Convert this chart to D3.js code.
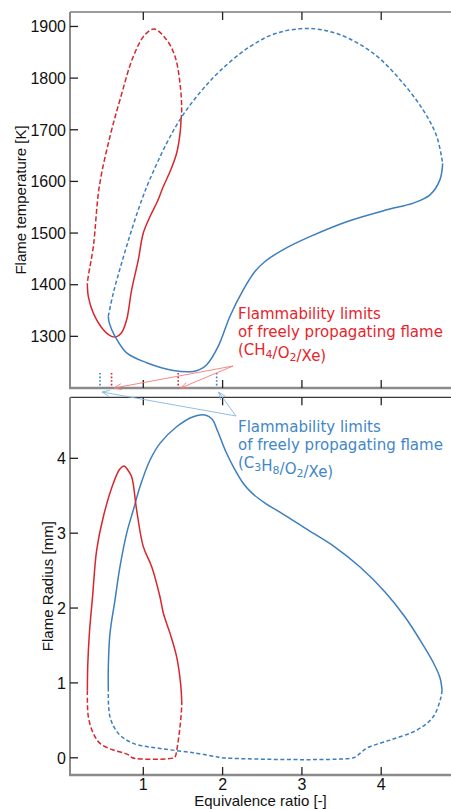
<!DOCTYPE html>
<html><head><meta charset="utf-8">
<script src="https://cdn.jsdelivr.net/npm/d3@7"></script>
<style>body{margin:0;background:#fff;} svg{display:block;}</style>
</head><body>
<svg id="chart" width="451" height="810"></svg>
<script>
// ---- data ----
const xTicks = [1, 2, 3, 4];
const tempTicks = [1300, 1400, 1500, 1600, 1700, 1800, 1900];
const radiusTicks = [0, 1, 2, 3, 4];

// CH4/O2/Xe : flame temperature [K] vs equivalence ratio
const ch4TempSolid = [[0.294,1403],[0.307,1377],[0.37,1345],[0.496,1313],[0.60,1300],[0.656,1299],[0.726,1307],[0.79,1332],[0.853,1390],[0.937,1448],[1.0,1500],[1.085,1532],[1.18,1562],[1.252,1590],[1.34,1620],[1.421,1655],[1.465,1695],[1.476,1719]];
const ch4TempDashed = [[1.476,1719],[1.484,1740],[1.463,1790],[1.40,1842],[1.295,1874],[1.139,1895],[1.021,1884],[0.874,1842],[0.706,1758],[0.58,1687],[0.445,1590],[0.37,1474],[0.31,1420],[0.294,1403]];
// C3H8/O2/Xe : flame temperature
const c3h8TempDashed = [[0.559,1339],[0.622,1384],[0.727,1442],[0.853,1506],[0.98,1564],[1.08,1603],[1.295,1674],[1.484,1725],[1.715,1772],[1.967,1814],[2.345,1861],[2.68,1887],[3.10,1896],[3.48,1884],[3.90,1848],[4.237,1797],[4.53,1738],[4.70,1687],[4.775,1635]];
const c3h8TempSolid = [[4.775,1635],[4.74,1603],[4.615,1574],[4.405,1558],[4.07,1545],[3.565,1522],[3.10,1493],[2.765,1468],[2.535,1445],[2.41,1426],[2.26,1390],[2.093,1339],[1.946,1281],[1.80,1245],[1.715,1236],[1.63,1232],[1.378,1234],[1.042,1249],[0.79,1268],[0.643,1300],[0.571,1326],[0.559,1339]];

// flame radius [mm]
const ch4RadiusSolid = [[0.295,0.90],[0.299,1.216],[0.32,1.662],[0.36,2.15],[0.412,2.775],[0.496,3.22],[0.622,3.666],[0.70,3.85],[0.757,3.897],[0.80,3.85],[0.853,3.754],[0.916,3.309],[1.0,2.82],[1.106,2.552],[1.21,2.151],[1.253,1.93],[1.337,1.662],[1.42,1.35],[1.47,0.994],[1.484,0.77]];
const ch4RadiusDashed = [[1.484,0.77],[1.484,0.681],[1.463,0.414],[1.425,0.12],[1.405,0.02],[1.39,0],[0.86,0],[0.83,0.03],[0.769,0.059],[0.622,0.103],[0.454,0.192],[0.37,0.326],[0.307,0.548],[0.295,0.90]];
const c3h8RadiusSolid = [[0.559,0.904],[0.559,1.216],[0.58,1.662],[0.643,2.107],[0.706,2.552],[0.79,2.998],[0.874,3.309],[0.958,3.62],[1.085,3.977],[1.21,4.2],[1.42,4.422],[1.63,4.556],[1.778,4.579],[1.866,4.525],[1.942,4.351],[2.043,4.084],[2.144,3.870],[2.257,3.670],[2.371,3.535],[2.535,3.402],[2.762,3.255],[3.039,3.068],[3.417,2.815],[3.733,2.548],[4.048,2.214],[4.30,1.88],[4.49,1.572],[4.653,1.279],[4.742,1.065],[4.767,0.904]];
const c3h8RadiusDashed = [[4.767,0.904],[4.754,0.81],[4.653,0.544],[4.45,0.37],[4.11,0.236],[3.82,0.13],[3.70,0.03],[3.65,0],[1.99,0],[1.925,0.013],[1.63,0.067],[1.21,0.125],[0.874,0.192],[0.685,0.326],[0.58,0.548],[0.559,0.904]];

// flammability limits of freely propagating flame
const ch4Limits = [0.60, 1.44];
const c3h8Limits = [0.454, 1.925];

// ---- layout ----
const RED = "#d8262c", RED_TXT = "#e8242b", RED_ARROW = "#f27c7c";
const BLUE = "#3d7ebf", BLUE_TXT = "#4287c8", BLUE_ARROW = "#86b6e2";
const L = 70, R = 451;
const top1 = 12, bot1 = 388, top2 = 397.3, bot2 = 775;

const svg = d3.select("#chart");
const x = d3.scaleLinear().domain([0.0757, 4.880]).range([L, R]);
const yT = d3.scaleLinear().domain([1200, 1928]).range([bot1, top1]);
const yR = d3.scaleLinear().domain([-0.23, 4.815]).range([bot2, top2]);

const FONT = "'Liberation Sans', Arial, sans-serif";
const AFONT = "'DejaVu Sans', Verdana, sans-serif";

function frame(t, b) {
  svg.append("line").attr("x1", L).attr("x2", R).attr("y1", t).attr("y2", t)
    .attr("stroke", "#3a3a3a").attr("stroke-width", 1.2);
  svg.append("line").attr("x1", L).attr("x2", L).attr("y1", t).attr("y2", b)
    .attr("stroke", "#8a8a8a").attr("stroke-width", 2);
  svg.append("line").attr("x1", L - 1).attr("x2", R).attr("y1", b).attr("y2", b)
    .attr("stroke", "#8a8a8a").attr("stroke-width", 2.5);
}
frame(top1, bot1);
frame(top2, bot2);

function yAxis(scale, ticks) {
  const g = svg.append("g");
  g.selectAll("line").data(ticks).join("line")
    .attr("x1", L).attr("x2", L + 8).attr("y1", d => scale(d)).attr("y2", d => scale(d))
    .attr("stroke", "#222").attr("stroke-width", 1.3);
  g.selectAll("text").data(ticks).join("text")
    .attr("x", L - 4).attr("y", d => scale(d)).attr("dy", "0.36em")
    .attr("text-anchor", "end").attr("font-family", FONT).attr("font-size", 16)
    .attr("fill", "#111").text(d => d);
}
function xTickMarks(t, b, labels) {
  const g = svg.append("g");
  g.selectAll("line.t").data(xTicks).join("line")
    .attr("x1", d => x(d)).attr("x2", d => x(d)).attr("y1", t).attr("y2", t + 8)
    .attr("stroke", "#222").attr("stroke-width", 1.3);
  g.selectAll("line.b").data(xTicks).join("line")
    .attr("x1", d => x(d)).attr("x2", d => x(d)).attr("y1", b - 8).attr("y2", b)
    .attr("stroke", "#222").attr("stroke-width", 1.3);
  if (labels) {
    g.selectAll("text").data(xTicks).join("text")
      .attr("x", d => x(d)).attr("y", b + 15)
      .attr("text-anchor", "middle").attr("font-family", FONT).attr("font-size", 16)
      .attr("fill", "#111").text(d => d);
  }
}
yAxis(yT, tempTicks);
yAxis(yR, radiusTicks);
xTickMarks(top1, bot1, false);
xTickMarks(top2, bot2, true);

// axis titles
svg.append("text").attr("transform", `translate(25.5,${(top1 + bot1) / 2}) rotate(-90)`)
  .attr("text-anchor", "middle").attr("font-family", FONT).attr("font-size", 15)
  .attr("fill", "#111").text("Flame temperature [K]");
svg.append("text").attr("transform", `translate(52.5,${(top2 + bot2) / 2}) rotate(-90)`)
  .attr("text-anchor", "middle").attr("font-family", FONT).attr("font-size", 15)
  .attr("fill", "#111").text("Flame Radius [mm]");
svg.append("text").attr("x", (L + R) / 2).attr("y", 806)
  .attr("text-anchor", "middle").attr("font-family", FONT).attr("font-size", 15)
  .attr("fill", "#111").text("Equivalence ratio [-]");

// curves
function curve(data, yScale, color, dash) {
  const line = d3.line().x(d => x(d[0])).y(d => yScale(d[1]))
    .curve(d3.curveCatmullRom.alpha(0.5));
  svg.append("path").datum(data).attr("d", line)
    .attr("fill", "none").attr("stroke", color).attr("stroke-width", 1.5)
    .attr("stroke-dasharray", dash || null);
}
curve(ch4TempSolid, yT, RED);
curve(ch4TempDashed, yT, RED, "5,2.5");
curve(c3h8TempDashed, yT, BLUE, "4,2.5");
curve(c3h8TempSolid, yT, BLUE);
curve(c3h8RadiusSolid, yR, BLUE);
curve(c3h8RadiusDashed, yR, BLUE, "4,2.5");
curve(ch4RadiusSolid, yR, RED);
curve(ch4RadiusDashed, yR, RED, "5,2.5");

// flammability limit markers
function limitMarks(lims, color) {
  svg.append("g").selectAll("line").data(lims).join("line")
    .attr("x1", d => x(d)).attr("x2", d => x(d)).attr("y1", bot1 - 15).attr("y2", bot1 - 1)
    .attr("stroke", color).attr("stroke-width", 1.6).attr("stroke-dasharray", "1.6,2");
}
limitMarks(c3h8Limits, BLUE);
limitMarks(ch4Limits, RED);

function arrow(x0, y0, x1, y1, color) {
  svg.append("line").attr("x1", x0).attr("y1", y0).attr("x2", x1).attr("y2", y1)
    .attr("stroke", color).attr("stroke-width", 0.9);
  const a = Math.atan2(y0 - y1, x0 - x1), len = 8, sp = 0.38;
  const p1 = [x1 + len * Math.cos(a + sp), y1 + len * Math.sin(a + sp)];
  const p2 = [x1 + len * Math.cos(a - sp), y1 + len * Math.sin(a - sp)];
  svg.append("path").attr("d", `M${p1}L${x1},${y1}L${p2}`)
    .attr("fill", "none").attr("stroke", color).attr("stroke-width", 0.9);
}
// annotation arrows
const redOrigin = [233, 366];
ch4Limits.forEach(d => arrow(redOrigin[0], redOrigin[1], x(d) + 2.5, bot1, RED_ARROW));
const blueOrigin = [236, 416];
c3h8Limits.forEach(d => arrow(blueOrigin[0], blueOrigin[1], x(d) + 2, bot1 + 4, BLUE_ARROW));

// annotation texts
function annot(x0, y0, color, sub) {
  const t = svg.append("text").attr("font-family", AFONT).attr("font-size", 15).attr("fill", color);
  t.append("tspan").attr("x", x0).attr("y", y0).text("Flammability limits");
  t.append("tspan").attr("x", x0).attr("y", y0 + 18).text("of freely propagating flame");
  const t3 = svg.append("text").attr("font-family", AFONT).attr("font-size", 15).attr("fill", color)
    .attr("x", x0).attr("y", y0 + 36);
  sub.forEach(([s, isSub]) => {
    t3.append("tspan").attr("font-size", isSub ? 11 : 15)
      .attr("dy", isSub ? 3 : 0).text(s);
    if (isSub) t3.append("tspan").attr("dy", -3).text("");
  });
}
annot(238, 319, RED_TXT, [["(CH",0],["4",1],["/O",0],["2",1],["/Xe)",0]]);
annot(238, 432, BLUE_TXT, [["(C",0],["3",1],["H",0],["8",1],["/O",0],["2",1],["/Xe)",0]]);
</script>
</body></html>
